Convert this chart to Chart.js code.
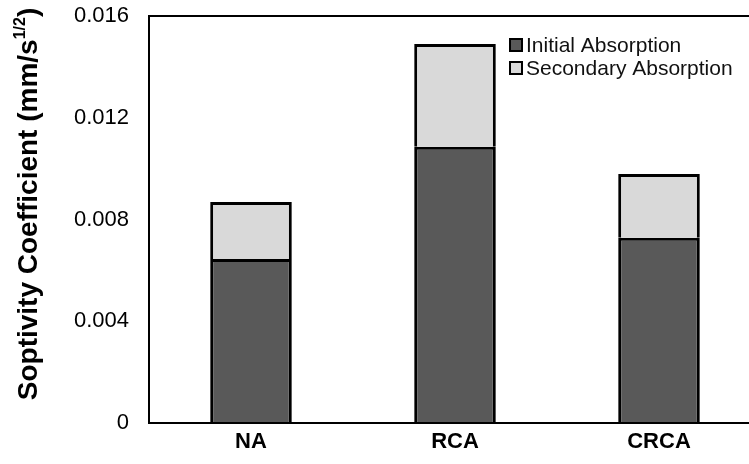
<!DOCTYPE html>
<html>
<head>
<meta charset="utf-8">
<script src="https://cdn.jsdelivr.net/npm/chart.js@4.4.1/dist/chart.umd.min.js"></script>
<style>
  html, body { margin: 0; padding: 0; background: #fff; overflow: hidden; }
  #wrap { width: 749px; height: 464px; overflow: hidden; position: relative; }
  #box { width: 765px; height: 464px; position: absolute; left: 0; top: 0; }
</style>
</head>
<body>
<div id="wrap"><div id="box"><canvas id="c"></canvas></div></div>
<script>
// Aggregate types and sorptivity components (mm/s^1/2)
const categories = ['NA', 'RCA', 'CRCA'];
const initialAbsorption = [0.00645, 0.01086, 0.00728];
// Secondary absorption, stacked on top of the initial part
const secondaryAbsorption = [0.00224, 0.00404, 0.00251];
const yTickLabels = ['0', '0.004', '0.008', '0.012', '0.016'];
const seriesNames = ['Initial Absorption', 'Secondary Absorption'];

const FONT = "'Liberation Sans', Arial, sans-serif";

// Frame around the plotting area (top and left edges plus axis)
const framePlugin = {
  id: 'frame',
  afterDraw(chart) {
    const { ctx, chartArea: a } = chart;
    ctx.save();
    ctx.strokeStyle = '#000';
    ctx.lineWidth = 2;
    ctx.strokeRect(a.left, a.top, a.right - a.left, a.bottom - a.top);
    ctx.restore();
  }
};

// Rotated y-axis title with a superscript exponent
const yTitlePlugin = {
  id: 'yTitle',
  afterDraw(chart) {
    const { ctx } = chart;
    const main = 'Soptivity Coefficient (mm/s';
    const sup = '1/2';
    const tail = ')';
    const fMain = 'bold 28px ' + FONT;
    const fSup = 'bold 16px ' + FONT;
    ctx.save();
    ctx.font = fMain;
    const wMain = ctx.measureText(main).width;
    const wTail = ctx.measureText(tail).width;
    ctx.font = fSup;
    const wSup = ctx.measureText(sup).width;
    const total = wMain + wSup + wTail;
    ctx.translate(37, 204);
    ctx.rotate(-Math.PI / 2);
    ctx.fillStyle = '#000';
    ctx.textBaseline = 'alphabetic';
    ctx.textAlign = 'left';
    let x = -total / 2;
    ctx.font = fMain;
    ctx.fillText(main, x, 0);
    x += wMain;
    ctx.font = fSup;
    ctx.fillText(sup, x, -12);
    x += wSup;
    ctx.font = fMain;
    ctx.fillText(tail, x, 0);
    ctx.restore();
  }
};

// Legend boxes inside the plotting area, upper right
const legendPlugin = {
  id: 'innerLegend',
  afterDraw(chart) {
    const { ctx } = chart;
    ctx.save();
    chart.data.datasets.forEach((ds, i) => {
      const y = 45 + i * 23;
      ctx.fillStyle = ds.backgroundColor;
      ctx.fillRect(510, y - 6, 12, 12);
      ctx.strokeStyle = '#000';
      ctx.lineWidth = 2;
      ctx.strokeRect(510, y - 6, 12, 12);
      ctx.fillStyle = '#111';
      ctx.font = '21px ' + FONT;
      ctx.textBaseline = 'middle';
      ctx.textAlign = 'left';
      ctx.fillText(ds.label, 526, y + 1);
    });
    ctx.restore();
  }
};

const barStyle = {
  borderColor: '#000',
  borderWidth: 3,
  borderSkipped: 'start',
  inflateAmount: 0,
  categoryPercentage: 1.0,
  barPercentage: 0.4
};

new Chart(document.getElementById('c'), {
  type: 'bar',
  data: {
    labels: categories,
    datasets: [
      Object.assign({ label: seriesNames[0], data: initialAbsorption, backgroundColor: '#595959' }, barStyle),
      Object.assign({ label: seriesNames[1], data: secondaryAbsorption, backgroundColor: '#d9d9d9' }, barStyle)
    ]
  },
  options: {
    responsive: true,
    maintainAspectRatio: false,
    animation: false,
    layout: { padding: { top: 16, right: 4, left: 0, bottom: 0 } },
    plugins: {
      legend: { display: false },
      tooltip: { enabled: false }
    },
    scales: {
      x: {
        stacked: true,
        grid: { display: false, drawTicks: false },
        border: { display: true, color: '#000', width: 2 },
        ticks: {
          color: '#000',
          font: { family: FONT, size: 22, weight: 'bold' },
          padding: 6
        },
        afterFit(s) { s.height = 41; s.paddingLeft = 0; s.paddingRight = 0; }
      },
      y: {
        stacked: true,
        min: 0,
        max: 0.016,
        grid: { display: false, drawTicks: false },
        border: { display: true, color: '#000', width: 2 },
        ticks: {
          stepSize: 0.004,
          color: '#000',
          font: { family: FONT, size: 22 },
          padding: 20,
          callback: (v, i) => yTickLabels[i]
        },
        afterFit(s) { s.width = 149; s.paddingTop = 0; s.paddingBottom = 0; }
      }
    }
  },
  plugins: [framePlugin, yTitlePlugin, legendPlugin]
});
</script>
</body>
</html>
